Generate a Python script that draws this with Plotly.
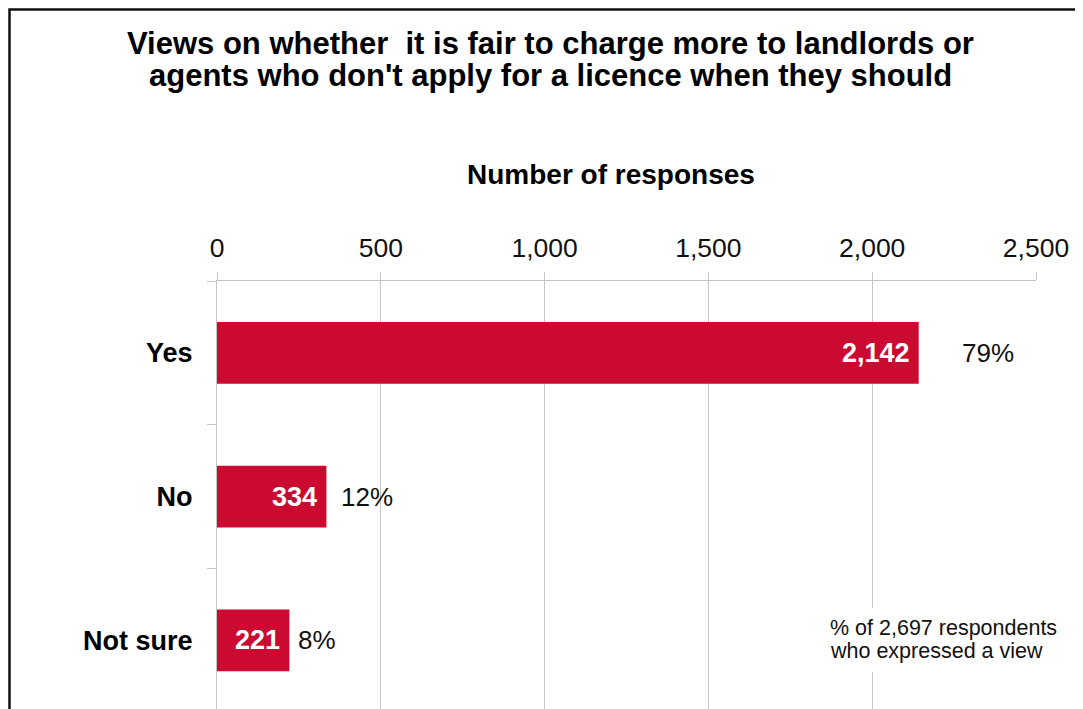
import plotly.graph_objects as go

categories = ["Yes", "No", "Not sure"]
responses = [2142, 334, 221]
pct_labels = ["79%", "12%", "8%"]
x_ticks = [0, 500, 1000, 1500, 2000, 2500]

title_lines = [
    "Views on whether\u00a0 it is fair to charge more to landlords or",
    "agents who don't apply for a licence when they should",
]
axis_title = "Number of responses"
note_lines = ["% of 2,697 respondents", "who expressed a view"]

# page renders the figure offset by 8px (body margin); work in screen pixels
OFF = 8
SW, SH = 1083, 709
W, H = SW - OFF, SH - OFF
X0, X1, YT = 217, 1036, 281          # screen px: x=0, x=2500, top axis line
L, R, T, B = X0 - OFF, SW - X1, YT - OFF, 0
PW, PH = W - L - R, H - T - B

def px_x(p):
    return (p - OFF - L) / PW

def px_y(p):
    return (H - B - (p - OFF)) / PH

FONT = "Liberation Sans, Arial, sans-serif"
BAR = "#CB0A31"
GRID = "#C4C4C4"
TXT = "#111111"

fig = go.Figure()
fig.add_trace(go.Bar(
    x=responses, y=categories, orientation="h",
    marker=dict(color=BAR, line=dict(width=0)),
    width=0.43, hoverinfo="skip",
))

annotations = []
for c, v in zip(categories, responses):
    annotations.append(dict(
        x=v, y=c, xref="x", yref="y", text=f"{v:,}", showarrow=False,
        xanchor="right", yanchor="middle", xshift=-7,
        font=dict(family=FONT, size=27, color="white", weight="bold"),
    ))
pct_shift = [41, 13, 7]
for c, v, p, s in zip(categories, responses, pct_labels, pct_shift):
    annotations.append(dict(
        x=v, y=c, xref="x", yref="y", text=p, showarrow=False,
        xanchor="left", yanchor="middle", xshift=s,
        font=dict(family=FONT, size=26, color=TXT),
    ))
for line, yc in zip(title_lines, [43, 76]):
    annotations.append(dict(
        x=px_x(550), y=px_y(yc), xref="paper", yref="paper", text=line,
        showarrow=False, xanchor="center", yanchor="middle",
        font=dict(family=FONT, size=31, color="black", weight="bold"),
    ))
annotations.append(dict(
    x=px_x(611), y=px_y(175), xref="paper", yref="paper", text=axis_title,
    showarrow=False, xanchor="center", yanchor="middle",
    font=dict(family=FONT, size=28, color="black", weight="bold"),
))
for line, yc in zip(note_lines, [628, 651]):
    annotations.append(dict(
        x=px_x(828), y=px_y(yc), xref="paper", yref="paper", text=line,
        showarrow=False, xanchor="left", yanchor="middle",
        font=dict(family=FONT, size=21.5, color=TXT),
    ))

shapes = [
    dict(type="rect", xref="paper", yref="paper", layer="above",
         x0=px_x(822), x1=px_x(1066), y0=px_y(672), y1=px_y(608),
         fillcolor="white", line=dict(width=0)),
    dict(type="rect", xref="paper", yref="paper", layer="above",
         x0=px_x(9.5), x1=px_x(SW + 20), y0=px_y(SH + 20), y1=px_y(9.5),
         fillcolor="rgba(0,0,0,0)", line=dict(color="#111111", width=2.5)),
]

fig.update_layout(
    width=W, height=H,
    margin=dict(l=L, r=R, t=T, b=B, pad=0),
    paper_bgcolor="white", plot_bgcolor="white",
    showlegend=False,
    annotations=annotations, shapes=shapes,
    font=dict(family=FONT, color=TXT),
    xaxis=dict(
        side="top", range=[0, 2500], tickvals=x_ticks,
        ticktext=[f"{t:,}" for t in x_ticks],
        showgrid=True, gridcolor=GRID, gridwidth=1.3,
        showline=True, linecolor=GRID, linewidth=1.3,
        ticks="outside", ticklen=8, tickcolor=GRID, tickwidth=1.3,
        ticklabelstandoff=4,
        zeroline=False, tickfont=dict(family=FONT, size=26.5, color=TXT),
        fixedrange=True,
    ),
    yaxis=dict(
        type="category", categoryorder="array", categoryarray=categories,
        range=[2.478, -0.5], autorange=False,
        showgrid=False, showline=True, linecolor=GRID, linewidth=1.3,
        ticks="outside", tickson="boundaries", ticklen=9, tickcolor=GRID, tickwidth=1.3,
        ticklabelstandoff=18,
        tickfont=dict(family=FONT, size=27, color="black", weight="bold"),
        fixedrange=True,
    ),
)

fig.write_html("out.html", config={"displayModeBar": False})
